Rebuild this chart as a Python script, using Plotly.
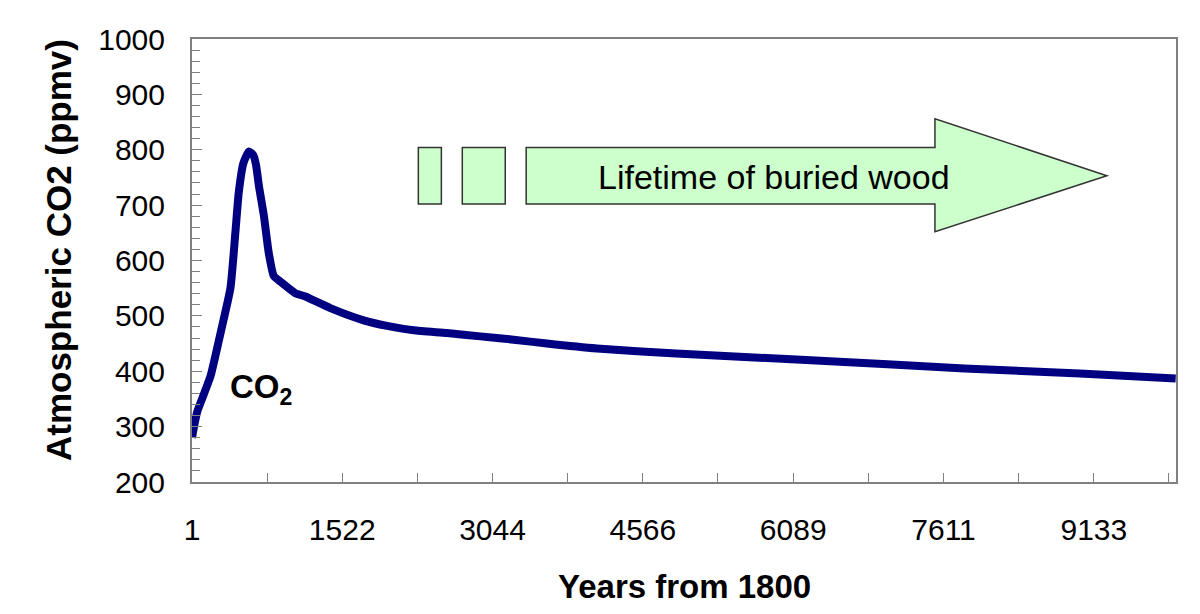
import plotly.graph_objects as go

# CO2 curve (years from 1800, ppmv)
years = [1, 30, 56, 107, 190, 290, 390, 441, 474, 522, 578, 623, 650, 680,
         728, 778, 829, 896, 1048, 1149, 1402, 1739, 1976, 2245, 2583, 2920,
         3257, 3595, 4101, 4903, 6268, 7823, 8992, 9962]
co2_ppmv = [280, 308, 328, 352, 392, 469, 550, 652, 722, 776, 797, 790, 772,
            733, 682, 614, 572, 562, 541, 535, 514, 492, 482, 474, 469, 463,
            457, 450, 441, 432, 420, 405, 396, 387]

x_ticks = [1, 1522, 3044, 4566, 6089, 7611, 9133]
x_minor = [761, 2283, 3805, 5327, 6850, 8372, 9894]
y_ticks = [200, 300, 400, 500, 600, 700, 800, 900, 1000]

FONT = "Arial, Liberation Sans, sans-serif"
AXIS_GREY = "#808080"

fig = go.Figure()
fig.add_trace(go.Scatter(
    x=years, y=co2_ppmv, mode="lines",
    line=dict(color="#000080", width=8, shape="spline", smoothing=0.5),
    hoverinfo="skip", showlegend=False,
))

# "Lifetime of buried wood" arrow, drawn as shapes behind the text
box_style = dict(type="rect", xref="x", yref="y", fillcolor="#ccffcc",
                 line=dict(color="#333333", width=1.5), layer="above")
fig.add_shape(x0=2293, x1=2526, y0=702, y1=804, **box_style)
fig.add_shape(x0=2738, x1=3173, y0=702, y1=804, **box_style)
fig.add_shape(type="path", xref="x", yref="y",
              path="M 3385,702 L 3385,804 L 7524,804 L 7524,856 "
                   "L 9265,753 L 7524,652 L 7524,702 Z",
              fillcolor="#ccffcc", line=dict(color="#333333", width=1.5),
              layer="above")

fig.add_annotation(x=5890, y=750, xref="x", yref="y",
                   text="Lifetime of buried wood", showarrow=False,
                   font=dict(family=FONT, size=34, color="black"))
fig.add_annotation(x=370, y=368, xref="x", yref="y", xanchor="left",
                   text="<b>CO<sub>2</sub></b>", showarrow=False,
                   font=dict(family=FONT, size=33, color="black"))

# axis titles placed by hand
fig.add_annotation(x=-0.135, y=0.524, xref="paper", yref="paper",
                   xanchor="center", yanchor="middle",
                   text="<b>Atmospheric CO2 (ppmv)</b>", textangle=-90,
                   showarrow=False, font=dict(family=FONT, size=35, color="black"))
fig.add_annotation(x=0.5, y=-0.236, xref="paper", yref="paper",
                   xanchor="center", yanchor="middle",
                   text="<b>Years from 1800</b>", showarrow=False,
                   font=dict(family=FONT, size=33, color="black"))

fig.update_layout(
    width=1200, height=614,
    margin=dict(l=192, r=24, t=39, b=132),
    paper_bgcolor="white", plot_bgcolor="white",
    font=dict(family=FONT, color="black"),
)
fig.update_xaxes(
    range=[1, 9965], tickmode="array", tickvals=x_ticks,
    ticktext=[str(v) for v in x_ticks],
    ticks="inside", ticklen=9, tickcolor=AXIS_GREY, tickwidth=1,
    minor=dict(tickvals=x_minor, ticks="inside", ticklen=9,
               tickcolor=AXIS_GREY, tickwidth=1),
    showline=True, linecolor=AXIS_GREY, linewidth=2, mirror=True,
    showgrid=False, zeroline=False,
    tickfont=dict(family=FONT, size=30, color="black"),
    ticklabelstandoff=20,
)
fig.update_yaxes(
    range=[200, 1000], tickmode="array", tickvals=y_ticks,
    ticks="inside", ticklen=10, tickcolor=AXIS_GREY, tickwidth=1,
    minor=dict(dtick=20, ticks="inside", ticklen=8,
               tickcolor=AXIS_GREY, tickwidth=1),
    showline=True, linecolor=AXIS_GREY, linewidth=2, mirror=True,
    showgrid=False, zeroline=False,
    tickfont=dict(family=FONT, size=30, color="black"),
    ticklabelstandoff=19,
)

fig.write_html("out.html", config={"displayModeBar": False},
               post_script="document.body.style.margin='0px';")
